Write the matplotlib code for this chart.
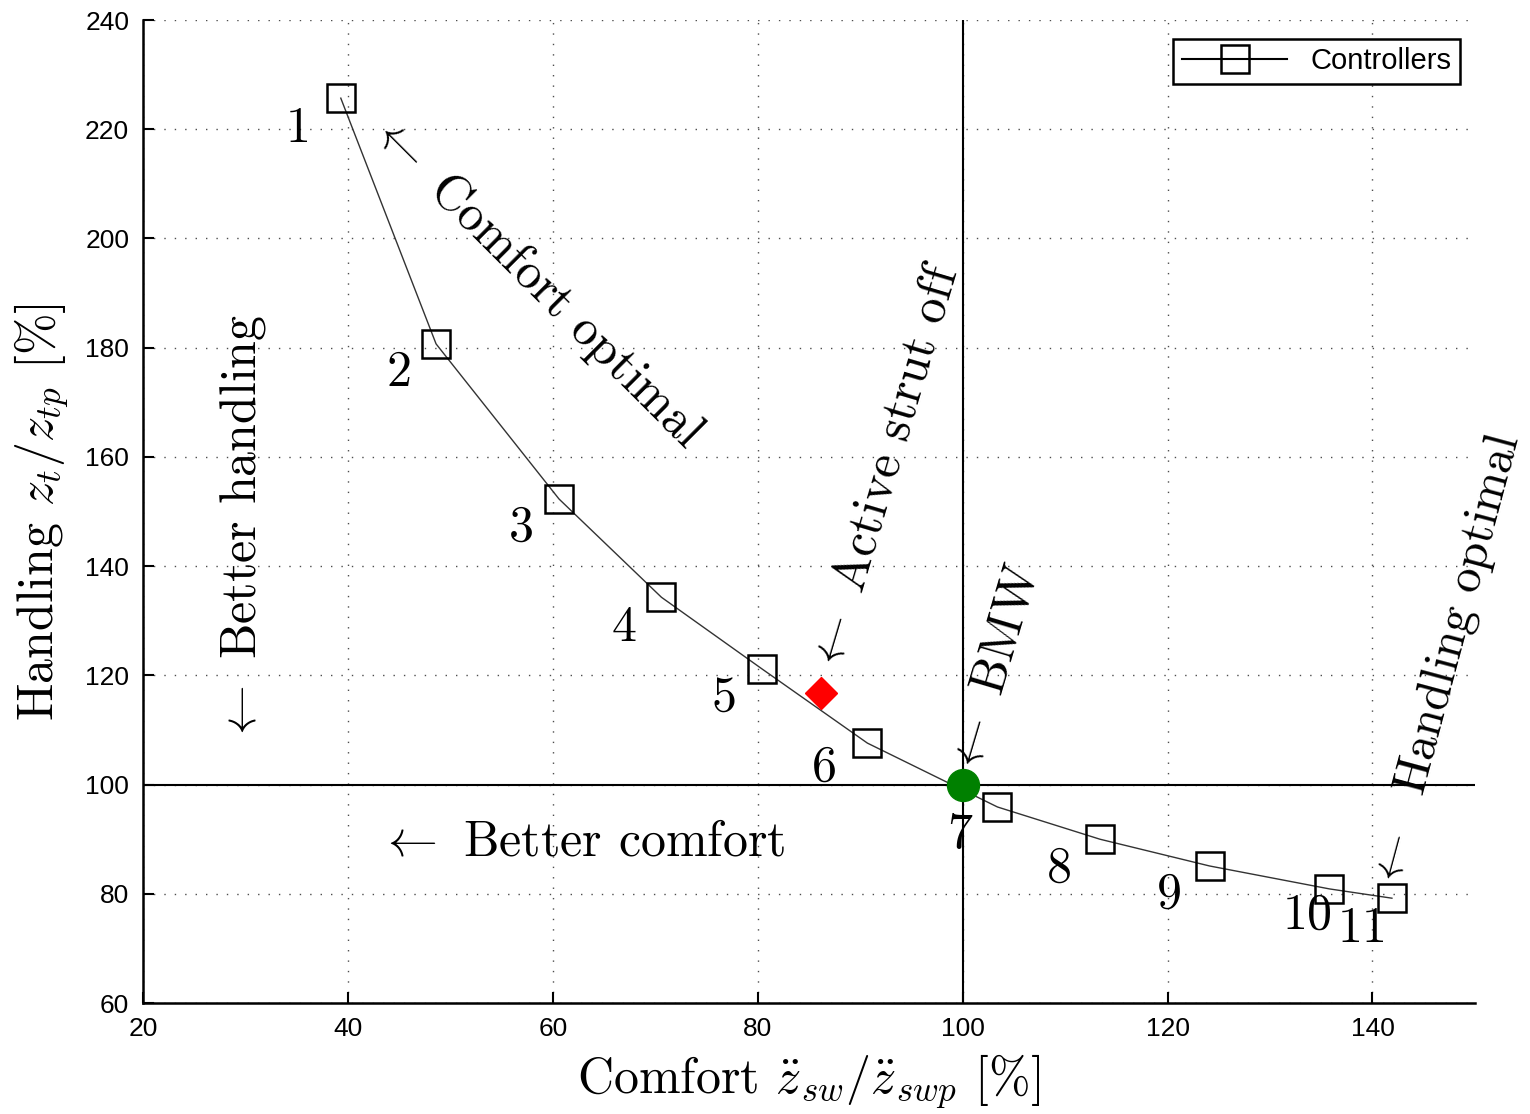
import numpy as np
import matplotlib
matplotlib.use('Agg')
import matplotlib.pyplot as plt

plt.rcParams['font.family'] = ['Liberation Sans', 'DejaVu Sans']
plt.rcParams['mathtext.fontset'] = 'cm'

# controllers (comfort %, handling %)
comfort = [39.3, 48.6, 60.6, 70.6, 80.4, 90.7, 103.4, 113.4, 124.1, 135.8, 141.9]
handling = [225.7, 180.7, 152.3, 134.3, 121.2, 107.6, 95.9, 90.0, 85.1, 80.9, 79.2]
ctrl_labels = ['1', '2', '3', '4', '5', '6', '7', '8', '9', '10', '11']

bmw_x, bmw_y = [100.0], [100.0]
strut_x, strut_y = [86.2], [116.8]

# label offsets in points (layout only)
lbl_off = [(-31, -22), (-27, -21), (-27, -21), (-27, -22), (-27, -21), (-31, -18),
           (-27, -20), (-29, -21), (-29, -21), (-16, -19), (-21, -22)]

CM = 'cmr10'
FS = 36

fig = plt.figure(figsize=(15.3, 11.14), dpi=100)
ax = fig.add_axes([0.0935, 0.0996, 0.8705, 0.8824])

ax.grid(True, color='0.3', linestyle=(0, (1, 6.5)), linewidth=1.0)
ax.axhline(100, color='k', lw=1.5, zorder=2)
ax.axvline(100, color='k', lw=1.5, zorder=2)

ax.plot(comfort, handling, '-', color='0.2', lw=1.0, zorder=3)
ax.plot(comfort, handling, 's', ms=20, mfc='none', mec='k', mew=1.8, zorder=4)
# legend proxy
ax.plot([], [], '-s', color='k', lw=1.5, ms=20, mfc='none', mec='k', mew=1.8,
        label='Controllers')

ax.plot(strut_x, strut_y, 'D', ms=16, color='red', zorder=5)
ax.plot(bmw_x, bmw_y, 'o', ms=23, color='green', zorder=5)

for x, y, t, off in zip(comfort, handling, ctrl_labels, lbl_off):
    ax.annotate(t, (x, y), xytext=off, textcoords='offset points',
                ha='center', va='center', fontsize=FS, family=CM)

ax.text(58.4, 192.2, r'$\leftarrow$ Comfort optimal', rotation=-45, ha='center',
        va='center', fontsize=FS, family=CM)
ax.text(92.5, 158.0, r'$\leftarrow$ Active strut off', rotation=73.5, ha='center',
        va='center', fontsize=FS, family=CM)
ax.text(103.2, 121.0, r'$\leftarrow$ BMW', rotation=73.5, ha='center',
        va='center', fontsize=FS, family=CM)
ax.text(147.2, 122.6, r'$\leftarrow$  Handling optimal', rotation=75, ha='center',
        va='center', fontsize=35, family=CM, clip_on=False)
ax.text(29.8, 146.9, r'$\leftarrow$ Better handling', rotation=90, ha='center',
        va='center', fontsize=FS, family=CM)
ax.text(62.9, 89.3, r'$\leftarrow$ Better comfort', ha='center',
        va='center', fontsize=FS, family=CM)

ax.set_xlim(20, 150)
ax.set_ylim(60, 240)
ax.set_xticks(np.arange(20, 141, 20))
ax.set_yticks(np.arange(60, 241, 20))
ax.tick_params(direction='in', length=8, width=1.5, labelsize=19, pad=10)
for s in ['top', 'right']:
    ax.spines[s].set_visible(False)
for s in ['left', 'bottom']:
    ax.spines[s].set_linewidth(1.8)

ax.set_xlabel(r'Comfort $\ddot{z}_{sw}/\ddot{z}_{swp}$ [%]', fontsize=FS, family=CM, labelpad=8)
ax.set_ylabel(r'Handling $z_t/z_{tp}$ [%]', fontsize=FS, family=CM, labelpad=10)

leg = ax.legend(loc='upper right', bbox_to_anchor=(0.989, 0.981), bbox_transform=ax.transAxes,
                fontsize=21, handlelength=3.6, fancybox=False, edgecolor='k',
                framealpha=1, borderaxespad=0.0, borderpad=0.3)
leg.get_frame().set_linewidth(1.8)

fig.savefig('out.png', dpi=100)
